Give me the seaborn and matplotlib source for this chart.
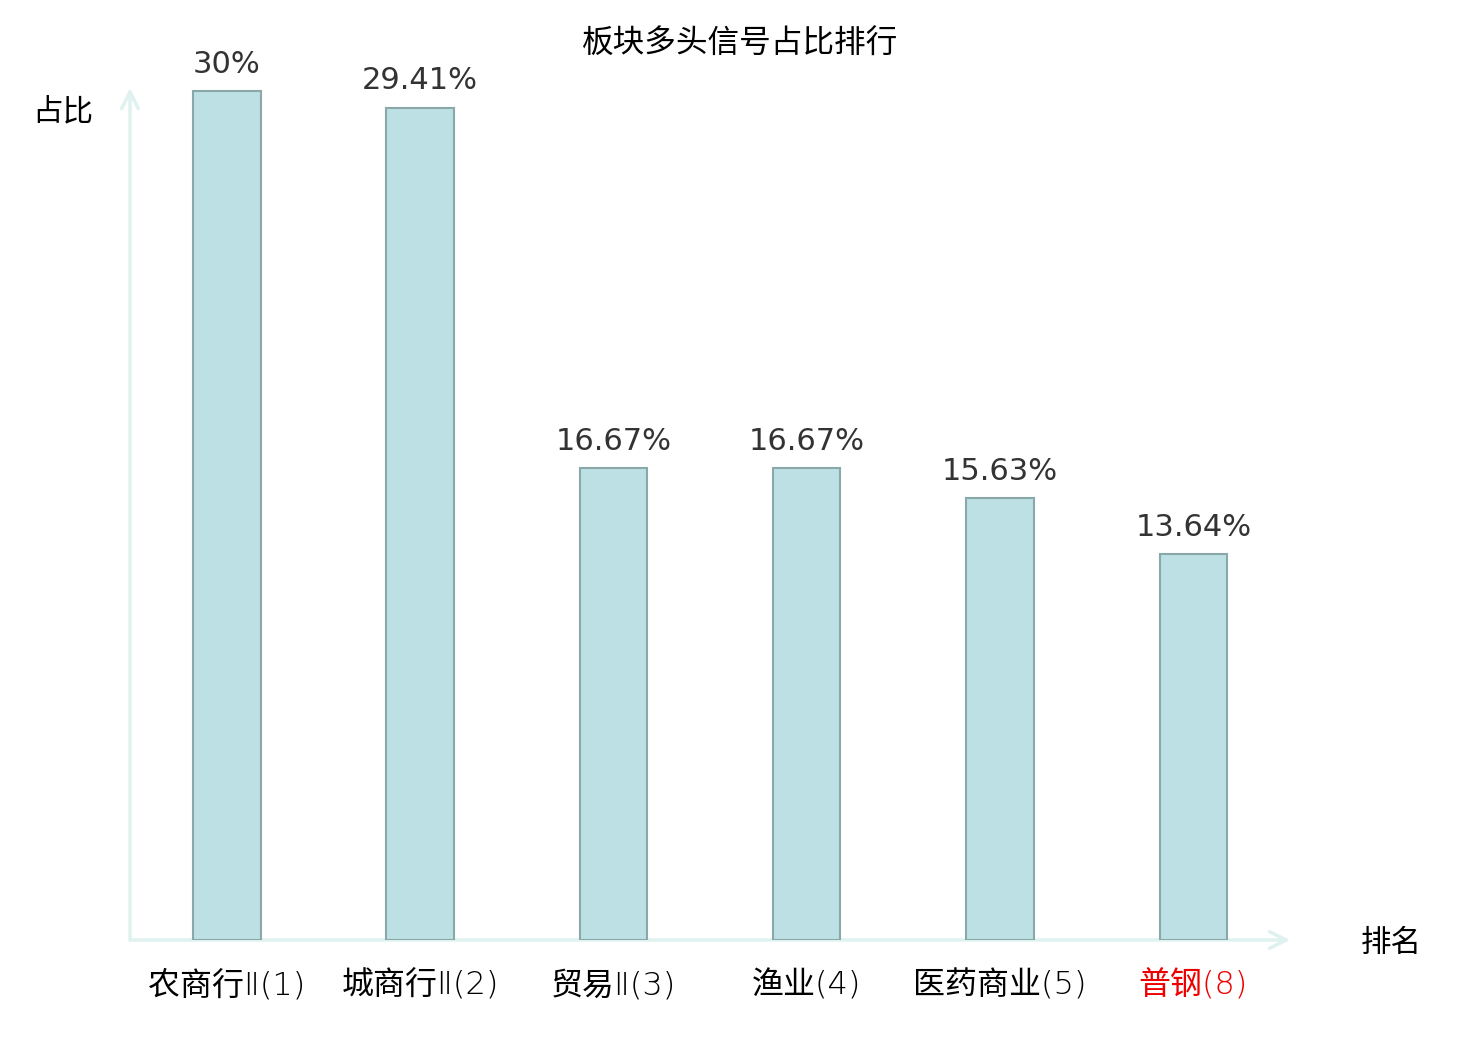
import pandas as pd
import seaborn as sns
import matplotlib.pyplot as plt
from matplotlib.font_manager import FontProperties

# data
sectors = ["农商行Ⅱ(1)", "城商行Ⅱ(2)", "贸易Ⅱ(3)", "渔业(4)", "医药商业(5)", "普钢(8)"]
shares = [30, 29.41, 16.67, 16.67, 15.63, 13.64]
share_labels = ["30%", "29.41%", "16.67%", "16.67%", "15.63%", "13.64%"]
label_colors = ["#000000", "#000000", "#000000", "#000000", "#000000", "#ee0000"]

df = pd.DataFrame({"sector": sectors, "share": shares})

sns.set_style("white")
plt.rcParams["font.family"] = ["Noto Sans CJK SC", "DejaVu Sans"]

fig = plt.figure(figsize=(14.8, 10.4), dpi=100)
ax = fig.add_axes([130 / 1480, 1 - 940 / 1040, 1160 / 1480, 852 / 1040])

sns.barplot(data=df, x="sector", y="share", color="#bce0e3", saturation=1,
            width=0.35, edgecolor="#8aa8aa", linewidth=1.5, ax=ax)

ax.set_xlim(-0.5, 5.5)
ax.set_ylim(0, 30.1)
for s in ax.spines.values():
    s.set_visible(False)
ax.set_yticks([])
ax.set_xlabel("")
ax.set_ylabel("")
ax.tick_params(axis="x", length=0, pad=21)
tick_font = FontProperties(family=["DejaVu Sans", "Noto Sans CJK SC"], weight="light", size=23)
for lab, c in zip(ax.get_xticklabels(), label_colors):
    lab.set_color(c)
    lab.set_fontproperties(tick_font)

# value labels above the bars
value_font = FontProperties(family="DejaVu Sans", size=22)
for i, (v, t) in enumerate(zip(shares, share_labels)):
    ax.annotate(t, xy=(i, v), xytext=(0, 13), textcoords="offset points",
                ha="center", va="baseline", color="#333333",
                fontproperties=value_font)

# axis arrows
arrow_c = "#dff2ef"
ax.annotate("", xy=(0, 1), xytext=(0, 0), xycoords="axes fraction",
            arrowprops=dict(arrowstyle="->", color=arrow_c, lw=2.5, mutation_scale=30,
                            shrinkA=0, shrinkB=0),
            annotation_clip=False, zorder=0)
ax.annotate("", xy=(1, 0), xytext=(0, 0), xycoords="axes fraction",
            arrowprops=dict(arrowstyle="->", color=arrow_c, lw=2.5, mutation_scale=30,
                            shrinkA=0, shrinkB=0),
            annotation_clip=False, zorder=0)

fig.text(0.5, 1 - 44 / 1040, "板块多头信号占比排行", ha="center", va="center",
         fontsize=22.8, color="black")
fig.text(63 / 1480, 1 - 112 / 1040, "占比", ha="center", va="center",
         fontsize=22, color="black")
fig.text(1391 / 1480, 1 - 943 / 1040, "排名", ha="center", va="center",
         fontsize=22, color="black")

fig.savefig("out.png", dpi=100)
